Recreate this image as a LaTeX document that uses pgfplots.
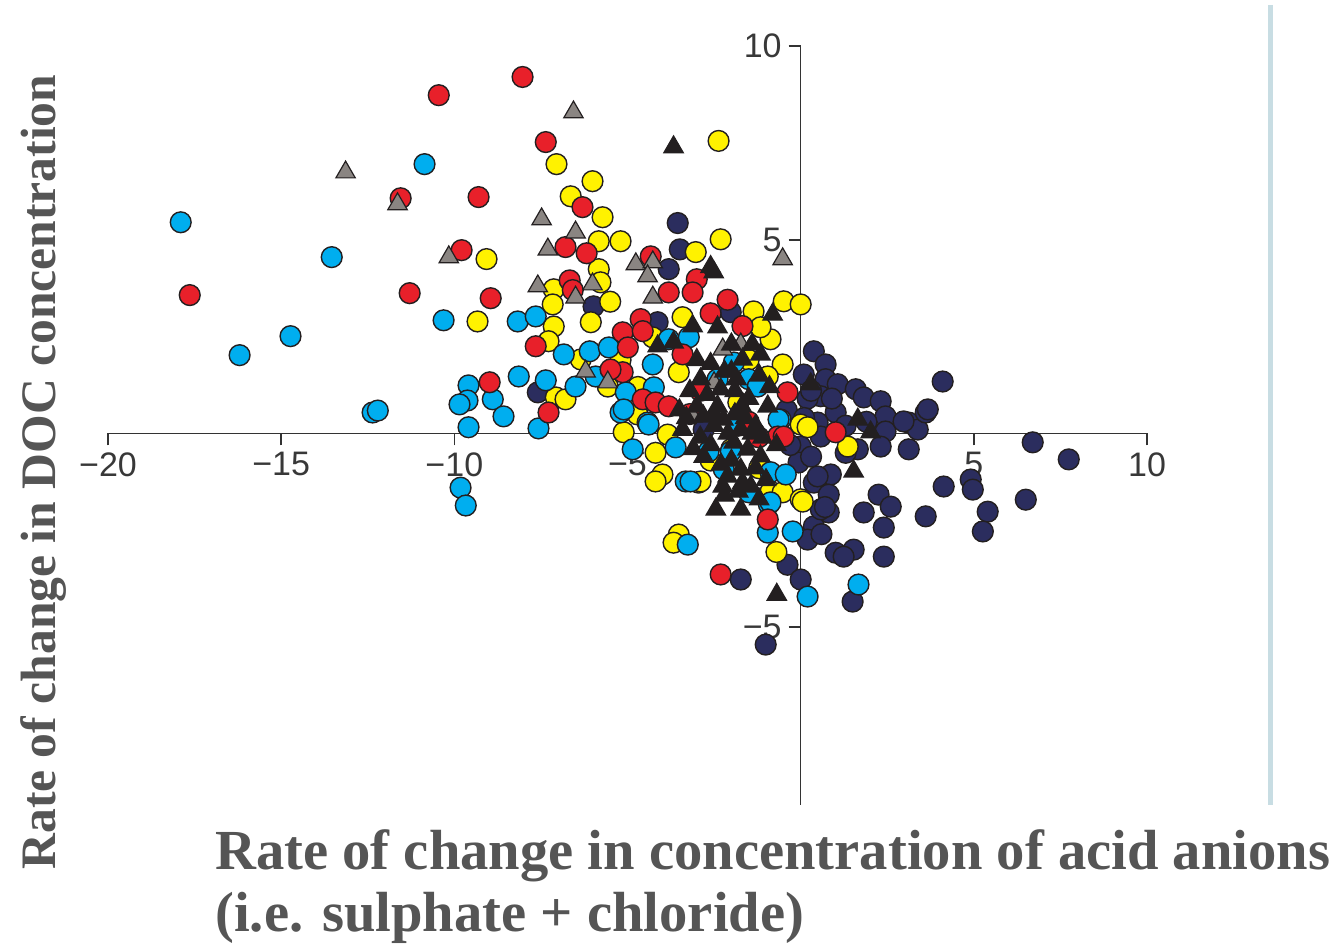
\documentclass[border=0pt]{standalone}
\usepackage{fontspec}
\setmainfont{Liberation Serif}
\setsansfont{Liberation Sans}
\usepackage{pgfplots}
\pgfplotsset{compat=1.18}
\definecolor{cred}{HTML}{E8202A}
\definecolor{cyel}{HTML}{FFF200}
\definecolor{cblu}{HTML}{00AEEF}
\definecolor{cnav}{HTML}{2B2D5E}
\definecolor{cgry}{HTML}{8A8582}
\definecolor{cblk}{HTML}{231F20}
\definecolor{edge}{HTML}{231F20}
\definecolor{lblc}{HTML}{555555}
\definecolor{vline}{HTML}{C8DDE3}
\pgfplotsset{
  circ/.style={only marks, mark=*, mark size=5.2pt, mark options={draw=edge, line width=0.7pt, fill=#1}},
  tri/.style={only marks, mark=triangle*, mark size=5.6pt, mark options={draw=edge, line width=0.6pt, fill=#1}},
}
\begin{document}
\begin{tikzpicture}
\begin{axis}[
  at={(54pt,70pt)}, anchor=south west,
  scale only axis, width=519.5pt, height=379.5pt,
  xmin=-20, xmax=10, ymin=-9.59, ymax=10,
  axis lines=middle, axis line style={-, draw=black!80, line width=0.8pt},
  set layers, clip=false,
  xtick={-20,-15,-10,-5,5,10}, xticklabels={−20,−15,−10,−5,5,10},
  ytick={-5,5,10}, yticklabels={−5,5,10},
  tick align=outside, major tick length=6pt,
  tick style={draw=black!80, line width=0.8pt},
  ticklabel style={font=\sffamily\fontsize{17}{17}\selectfont, text=black!78},
]
% navy
\addplot[circ=cnav] coordinates {
(-3.55,5.43) (-3.49,4.75) (-3.81,4.24) (-5.98,3.28) (-4.13,2.87) (-2.02,3.13) (-7.59,1.06)
(-1.73,-3.77) (-1.01,-5.45) (0.38,2.12) (0.72,1.78) (0.09,1.52) (0.72,1.40) (1.07,1.27)
(1.59,1.14) (1.82,0.93) (2.31,0.83) (2.45,0.44) (2.45,0.05) (3.12,0.28) (3.38,0.10)
(3.61,0.54) (4.10,1.34) (3.12,-0.41) (2.31,-0.34) (1.65,-0.41) (0.58,0.96) (1.01,0.54)
(0.49,0.28) (0.00,-0.34) (0.58,-0.08) (-0.06,-0.75) (0.38,-1.27) (0.87,-1.06) (0.81,-1.58)
(0.81,-2.04) (0.38,-2.40) (0.20,-2.74) (1.01,-3.08) (1.53,-3.00) (1.24,-3.18) (2.40,-3.18)
(2.25,-1.58) (2.60,-1.89) (1.82,-2.04) (2.40,-2.43) (3.61,-2.14) (4.13,-1.37) (4.91,-1.19)
(4.97,-1.45) (5.40,-2.02) (5.26,-2.53) (6.50,-1.71) (6.70,-0.23) (7.74,-0.67) (1.50,-4.34)
(-0.38,-3.39) (0.00,-3.77) (2.97,0.31) (3.67,0.62) (0.49,-1.11) (0.58,-1.96) (0.30,-0.60)
(1.30,0.20) (1.90,0.30) (0.20,0.90) (1.30,-0.50) (-0.40,0.60) (-0.30,-0.30) (0.70,-1.90)
(0.60,-2.60) (-2.80,0.10) (0.30,1.10) (0.90,0.90) (0.10,0.40)
};
% yellow
\addplot[circ=cyel] coordinates {
(-2.37,7.55) (-7.05,6.95) (-6.01,6.51) (-6.64,6.12) (-5.72,5.58) (-5.83,4.96) (-5.20,4.96)
(-2.31,5.01) (-3.03,4.68) (-9.07,4.50) (-9.33,2.89) (-5.83,4.24) (-7.13,3.72) (-7.16,3.33)
(-7.13,2.76) (-6.06,2.87) (-7.28,2.38) (-3.41,3.00) (-1.36,3.15) (-0.49,3.41) (0.00,3.33)
(-0.87,2.43) (-1.16,2.74) (-0.52,1.78) (-0.95,1.47) (-3.52,1.58) (-7.07,0.93) (-6.79,0.88)
(-5.11,0.03) (-4.19,-0.50) (0.00,0.23) (-4.71,0.49) (-3.84,-0.03) (-3.99,-1.06) (-4.19,-1.24)
(-2.95,-1.27) (-3.52,-2.61) (-3.67,-2.82) (-2.89,-1.24) (-2.60,-0.70) (-0.87,-1.50) (-0.52,-1.52)
(0.00,-1.70) (0.20,0.16) (0.06,-1.76) (-0.70,-3.06) (1.36,-0.34) (-5.78,3.90) (-4.27,2.48)
(-5.20,1.90) (-6.35,1.91) (-5.57,1.21) (-1.50,1.90) (-1.80,0.80) (-4.70,1.20) (-2.00,-0.40)
(-1.20,-0.90) (-5.50,3.40)
};
% light blue
\addplot[circ=cblu] coordinates {
(-17.90,5.45) (-10.86,6.95) (-13.54,4.55) (-16.20,2.02) (-14.73,2.51) (-10.31,2.92)
(-12.36,0.54) (-12.21,0.59) (-9.59,1.24) (-9.62,0.85) (-9.85,0.75) (-8.89,0.88) (-8.58,0.44)
(-9.59,0.16) (-9.82,-1.40) (-9.67,-1.86) (-8.17,2.89) (-7.65,3.02) (-8.14,1.47) (-7.36,1.37)
(-7.57,0.13) (-6.50,1.21) (-6.84,2.04) (-6.09,2.12) (-5.54,2.22) (-5.92,1.47) (-4.27,1.78)
(-4.24,1.19) (-5.05,1.06) (-5.20,0.54) (-4.42,0.28) (-3.81,2.43) (-3.23,2.48) (-1.50,1.40)
(-1.24,1.21) (-0.58,0.36) (-4.39,0.23) (-4.85,-0.41) (-3.61,-0.36) (-3.32,-1.24) (-2.66,-0.47)
(-2.02,-0.47) (-2.22,-0.93) (-3.18,-1.24) (-0.87,-1.00) (-0.43,-1.06) (-1.50,-1.52) (-0.92,-1.83)
(-0.95,-2.56) (-0.23,-2.53) (-0.64,0.36) (-3.26,-2.87) (0.20,-4.21) (1.67,-3.90) (-0.87,-1.78)
(-5.11,0.62) (-1.93,1.83) (-2.40,1.40) (-1.80,0.20)
};
% red
\addplot[circ=cred] coordinates {
(-8.03,9.20) (-10.45,8.73) (-7.36,7.52) (-11.55,6.07) (-9.30,6.10) (-9.79,4.73) (-17.64,3.57)
(-11.29,3.62) (-8.95,3.49) (-8.98,1.32) (-7.28,0.54) (-6.79,4.81) (-6.30,5.84) (-6.18,4.65)
(-6.67,3.95) (-6.58,3.70) (-7.65,2.25) (-4.33,4.57) (-3.00,3.98) (-3.12,3.64) (-3.81,3.64)
(-2.11,3.45) (-2.60,3.10) (-1.68,2.77) (-4.62,2.95) (-5.14,2.61) (-4.56,2.64) (-4.99,2.22)
(-5.14,1.58) (-5.49,1.65) (-4.56,0.88) (-4.19,0.80) (-3.81,0.70) (-3.41,2.04) (-0.38,1.06)
(-0.66,-0.08) (-1.21,-0.10) (-0.49,-0.08) (-0.95,-2.22) (-2.31,-3.64) (1.01,0.03)
(-2.90,1.10) (-3.20,0.50) (-1.50,0.30)
};
% grey triangles
\addplot[tri=cgry] coordinates {
(-13.14,6.74) (-11.64,5.92) (-10.16,4.55) (-6.56,8.29) (-7.48,5.53) (-7.30,4.75) (-6.50,5.19)
(-7.59,3.80) (-6.50,3.51) (-6.01,3.85) (-4.76,4.37) (-4.27,4.42) (-4.42,4.06) (-4.27,3.51)
(-0.52,4.50) (-1.73,2.30) (-2.25,2.17) (-6.21,1.60) (-5.57,1.32) (-3.12,0.44) (-2.50,1.30)
};
% black triangles
\addplot[tri=cblk] coordinates {
(-3.67,7.39) (-2.51,4.16) (-2.60,4.30) (-0.81,3.07) (-3.12,2.77) (-2.40,2.74) (-3.67,2.35)
(-4.13,2.25) (-1.16,2.04) (-1.68,1.91) (-2.45,-1.96) (-1.73,-1.96) (-0.69,-4.16) (1.53,-0.98)
(-3.41,0.10) (-2.11,-1.11) (-1.68,-1.27) (0.29,1.27) (1.65,0.36) (2.02,0.03) (-2.81,0.44)
(-2.23,0.36) (-1.73,0.10) (-1.53,-0.41) (-1.73,-0.93) (-1.44,-1.37) (-2.25,-1.37) (-1.16,-0.59)
(-1.93,-0.23) (-2.89,1.40) (-2.31,1.14) (-1.85,1.40) (-3.00,0.70) (-2.40,0.70) (-1.70,0.70)
(-0.95,0.70) (-2.60,1.80) (-2.00,1.60) (-3.20,1.10) (-1.30,0.20) (-2.60,-0.30) (-1.00,-1.20)
(-3.50,0.60) (-2.00,-0.70) (-0.70,-0.30)
(-2.70,1.00) (-2.20,1.60) (-1.90,1.10) (-1.50,0.90) (-1.20,1.50) (-2.50,0.20) (-2.10,0.00)
(-1.40,0.00) (-1.10,-0.10) (-2.80,-0.60) (-2.30,-0.80) (-1.80,-1.50) (-1.30,-0.90) (-2.90,-0.10)
(-3.30,0.40) (-3.00,1.90) (-2.00,2.30) (-1.40,2.30) (-0.90,1.20) (-2.20,-1.60) (-1.60,0.40)
(-2.50,0.50) (-1.90,0.50) (-3.10,-0.40) (-1.20,-1.70)
};
\end{axis}
\draw[vline, line width=2.5pt] (635pt,470pt) -- (635pt,70pt);
\node[rotate=90, anchor=base west, inner sep=0pt, text=lblc, font=\bfseries\fontsize{24.8}{24.8}\selectfont] at (27.5pt,37.5pt) {Rate of change in DOC concentration};
\node[anchor=base west, inner sep=0pt, text=lblc, font=\bfseries\fontsize{28.3}{28.3}\selectfont] at (107.5pt,37.5pt) {Rate of change in concentration of acid anions};
\node[anchor=base west, inner sep=0pt, text=lblc, font=\bfseries\fontsize{28.3}{28.3}\selectfont] at (107.5pt,6.5pt) {(i.e. sulphate + chloride)};
\pgfresetboundingbox
\useasboundingbox (0,0) rectangle (669.5pt,472.5pt);
\end{tikzpicture}
\end{document}
